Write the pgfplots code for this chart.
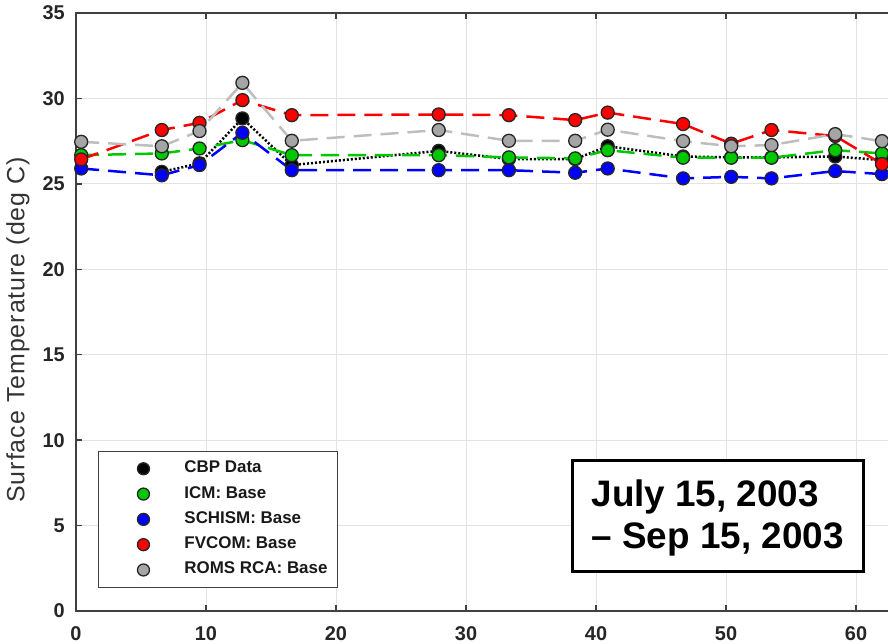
\documentclass[border=0pt]{standalone}
\usepackage{fontspec}
\setmainfont{Liberation Sans}
\newfontfamily\labelfont[LetterSpace=4]{Liberation Sans}
\usepackage{pgfplots}
\pgfplotsset{compat=1.18}
\definecolor{mgreen}{RGB}{0,200,0}
\definecolor{mblue}{RGB}{0,0,255}
\definecolor{mred}{RGB}{255,0,0}
\definecolor{mgrayline}{RGB}{190,190,190}
\definecolor{mgraymark}{RGB}{165,165,165}
\definecolor{axgray}{RGB}{64,64,64}
\begin{document}
\begin{tikzpicture}
\begin{axis}[
  scale only axis, width=845bp, height=598bp,
  at={(76bp,33bp)}, anchor=south west,
  xmin=0, xmax=65, ymin=0, ymax=35,
  xtick={0,10,...,60}, ytick={0,5,...,35},
  grid=major, major grid style={color=black!11, line width=0.8bp},
  axis line style={color=axgray, line width=1.5bp},
  tick style={color=axgray, line width=1.5bp},
  major tick length=6bp, tick align=inside,
  /pgf/number format/assume math mode=true,
  ticklabel style={font=\fontsize{20}{20}\selectfont\bfseries, color=black!85},
  xticklabel style={inner sep=0pt, anchor=north, yshift=-15bp},
  yticklabel style={inner sep=0pt, anchor=east, xshift=-11bp},
  ylabel={Surface Temperature (deg C)},
  ylabel style={at={(axis description cs:-0.0686,0.47)}, anchor=center, font=\labelfont\fontsize{25}{25}\selectfont, color=black!80},
  legend cell align=left,
  legend style={at={(axis description cs:0.026,0.0385)}, anchor=south west,
    draw=axgray, line width=1bp, fill=white, inner xsep=10bp, inner ysep=9.5bp,
    font=\fontsize{17}{17}\selectfont\bfseries, text=black!90, row sep=9.3bp,
    nodes={inner sep=0pt, text height=12bp, text depth=4bp}},
  legend image code/.code={\path[draw=none,fill=none] (0bp,0bp) (76bp,0bp); \draw[#1, mark size=6bp, every mark/.append style={draw=black!85, line width=1.3bp}] plot coordinates {(35bp,0bp)};},
  every axis plot/.append style={line width=2.5bp, mark=*, mark size=6.5bp},
]
\addplot[black, dash pattern=on 2bp off 2bp, mark options={solid, fill=black, draw=black!85, line width=1.3bp}] table {
x y
6.6 25.7
9.5 26.2
12.8 28.83
16.6 26.1
27.9 26.93
33.3 26.45
38.4 26.45
40.9 27.2
46.7 26.6
50.4 26.55
53.5 26.55
58.4 26.6
62.0 26.39
};
\addlegendentry{CBP Data}
\addplot[mgreen, dash pattern=on 18bp off 9bp, mark options={solid, fill=mgreen, draw=black!85, line width=1.3bp}] table {
x y
0.4 26.68
6.6 26.78
9.5 27.07
12.8 27.56
16.6 26.68
27.9 26.68
33.3 26.55
38.4 26.49
40.9 26.97
46.7 26.53
50.4 26.53
53.5 26.53
58.4 26.97
62.0 26.78
};
\addlegendentry{ICM: Base}
\addplot[mblue, dash pattern=on 18bp off 9bp, mark options={solid, fill=mblue, draw=black!85, line width=1.3bp}] table {
x y
0.4 25.9
6.6 25.5
9.5 26.1
12.8 27.99
16.6 25.8
27.9 25.8
33.3 25.8
38.4 25.65
40.9 25.9
46.7 25.32
50.4 25.41
53.5 25.32
58.4 25.75
62.0 25.57
};
\addlegendentry{SCHISM: Base}
\addplot[mred, dash pattern=on 18bp off 9bp, mark options={solid, fill=mred, draw=black!85, line width=1.3bp}] table {
x y
0.4 26.43
6.6 28.15
9.5 28.57
12.8 29.9
16.6 29.02
27.9 29.06
33.3 29.02
38.4 28.73
40.9 29.17
46.7 28.5
50.4 27.35
53.5 28.15
58.4 27.8
62.0 26.16
};
\addlegendentry{FVCOM: Base}
\addplot[mgrayline, dash pattern=on 18bp off 9bp, mark options={solid, fill=mgraymark, draw=black!85, line width=1.3bp}] table {
x y
0.4 27.46
6.6 27.2
9.5 28.09
12.8 30.91
16.6 27.52
27.9 28.15
33.3 27.52
38.4 27.52
40.9 28.17
46.7 27.5
50.4 27.2
53.5 27.27
58.4 27.91
62.0 27.5
};
\addlegendentry{ROMS RCA: Base}
\node[draw=black, line width=3bp, fill=white, anchor=north west, inner xsep=19.5bp, inner ysep=15.5bp, align=left, font=\fontsize{37}{42}\selectfont\bfseries] at (axis cs:38.04,8.92) {\rule{0pt}{31bp}July 15, 2003\\-- Sep 15, 2003};
\end{axis}
\pgfresetboundingbox
\useasboundingbox (0,0) rectangle (888bp,644bp);
\end{tikzpicture}
\end{document}
